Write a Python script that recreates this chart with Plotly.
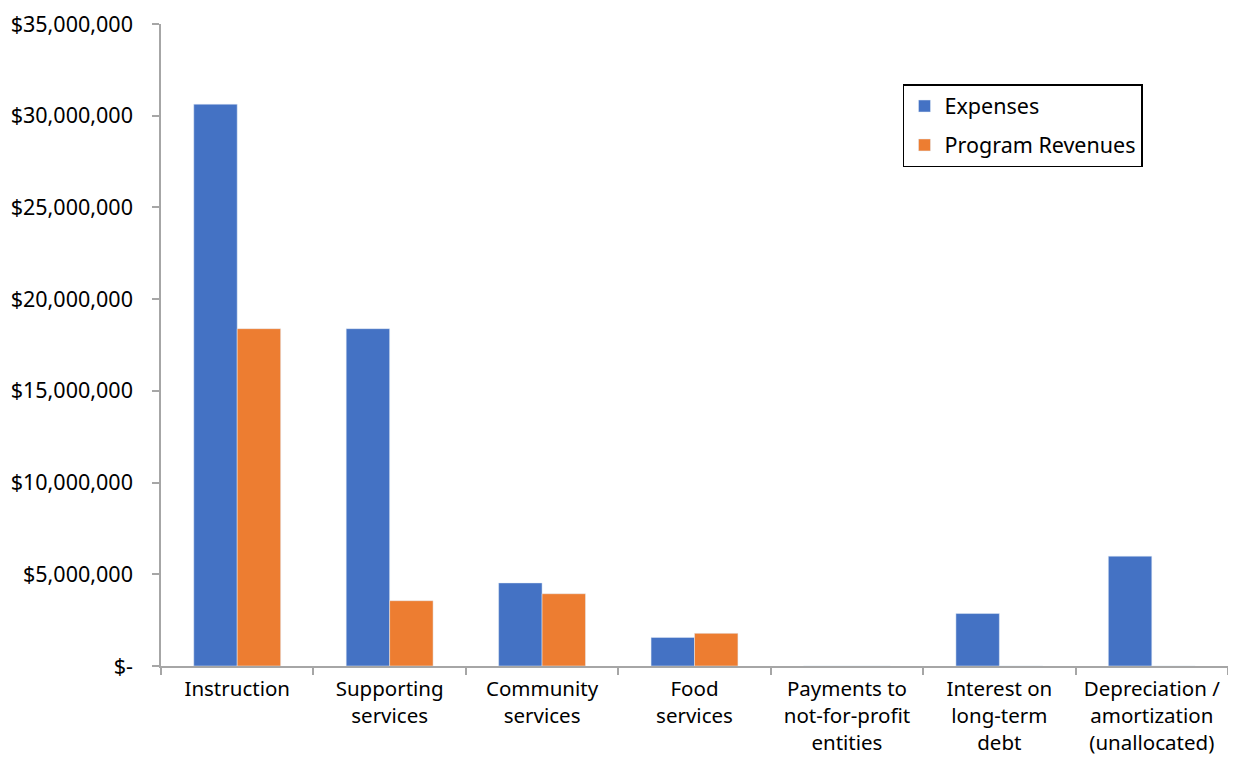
import plotly.graph_objects as go

categories = ["Instruction", "Supporting<br>services", "Community<br>services", "Food<br>services",
              "Payments to<br>not-for-profit<br>entities", "Interest on<br>long-term<br>debt",
              "Depreciation /<br>amortization<br>(unallocated)"]
expenses = [30630000, 18390000, 4530000, 1560000, 0, 2860000, 5990000]
revenues = [18390000, 3560000, 3940000, 1780000, 0, 0, 0]
tick_vals = [0, 5000000, 10000000, 15000000, 20000000, 25000000, 30000000, 35000000]
tick_text = ["$-", "$5,000,000", "$10,000,000", "$15,000,000", "$20,000,000",
             "$25,000,000", "$30,000,000", "$35,000,000"]

FONT = "Noto Sans"
FS = 21.5

fig = go.Figure()
fig.add_trace(go.Bar(x=categories, y=expenses, name="Expenses", marker_color="#4472C4",
                     legendgroup="a"))
fig.add_trace(go.Bar(x=categories, y=revenues, name="Program Revenues", marker_color="#ED7D31",
                     legendgroup="b"))

fig.update_layout(
    width=1220, height=747,
    margin=dict(l=153, r=0, t=16, b=89, autoexpand=False),
    plot_bgcolor="white", paper_bgcolor="white",
    barmode="group", bargap=0.43, bargroupgap=0,
    font=dict(family=FONT, size=FS, color="#000000"),
    legend=dict(x=0.6954, y=0.9065, xanchor="left", yanchor="top",
                bordercolor="#000000", borderwidth=1.5, bgcolor="white",
                traceorder="grouped", tracegroupgap=8, itemwidth=30,
                font=dict(family=FONT, size=FS)),
    xaxis=dict(showline=True, linecolor="#A6A6A6", linewidth=1.5,
               ticks="outside", tickson="boundaries", ticklen=7, tickcolor="#A6A6A6",
               tickwidth=1.5, showgrid=False, ticklabelstandoff=4,
               tickfont=dict(family=FONT, size=20.5)),
    yaxis=dict(range=[0, 35000000], tickvals=tick_vals, ticktext=tick_text,
               showline=True, linecolor="#A6A6A6", linewidth=1.5,
               ticks="outside", ticklen=7, tickcolor="#A6A6A6", tickwidth=1.5,
               showgrid=False, zeroline=False, ticklabelstandoff=15,
               ticklabeloverflow="allow"),
)

fig.write_html("out.html")
